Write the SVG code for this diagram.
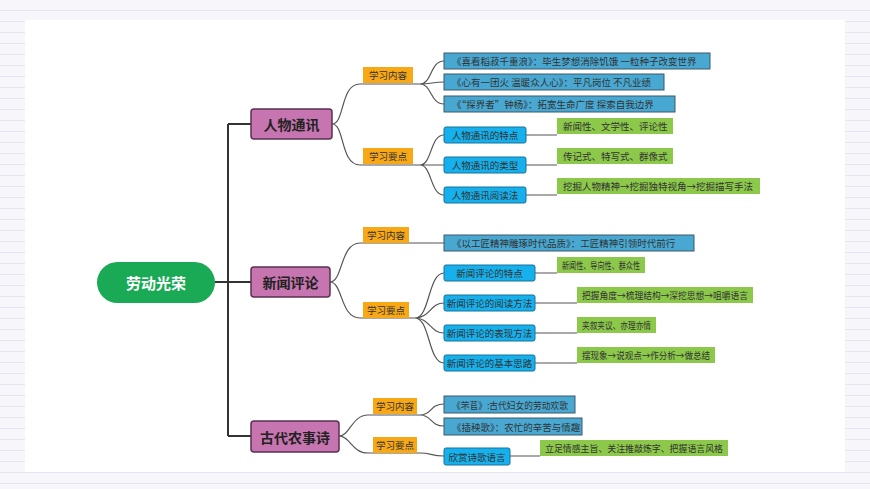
<svg xmlns="http://www.w3.org/2000/svg" width="870" height="489" viewBox="0 0 870 489">
<defs><pattern id="ln" width="10" height="11" patternUnits="userSpaceOnUse"><rect width="10" height="11" fill="#f6f6fb"/><line x1="0" y1="10.5" x2="10" y2="10.5" stroke="#e6e6f0"/></pattern></defs>
<style>
text{font-family:"Noto Sans CJK SC","Noto Sans",sans-serif;dominant-baseline:central}
.c{fill:none;stroke:#555;stroke-width:1.2}
.m rect{fill:#c775b0;stroke:#5a3150;stroke-width:1.5}
.m text{font-size:14px;font-weight:bold;fill:#222;text-anchor:middle}
.o rect{fill:#f8a815}
.o text{font-size:9.5px;fill:#333;text-anchor:middle}
.t rect{fill:#48a8d2;stroke:#3d5a6b;stroke-width:1}
.b rect{fill:#16b0ec;stroke:#16739a;stroke-width:1}
.g rect{fill:#8cc84a}
.t text,.b text,.g text{font-size:9.5px;fill:#333}
.b text{text-anchor:middle}
</style>
<rect width="870" height="489" fill="url(#ln)"/>
<rect x="25" y="20" width="820" height="452" fill="#fff"/>
<g id="connectors">
<path d="M215 282H228M228 124V436M228 124H251M228 282H251M228 436H251" fill="none" stroke="#333" stroke-width="2"/>
<path class="c" d="M332 124C345 124 340 84 360 84H420M332 124C345 124 340 165 360 165H420"/>
<path class="c" d="M420 84C432 84 430 61 444 61M420 84C432 84 432 82 444 82M420 84C432 84 430 104 444 104"/>
<path class="c" d="M420 165C432 165 430 135 444 135M420 165C432 165 432 165 444 165M420 165C432 165 430 195 444 195"/>
<path class="c" d="M526 135H557M526 165H557M526 195H557"/>
<path class="c" d="M330 282C343 282 340 243 360 243H415L444 243M330 282C343 282 340 318 360 318H415"/>
<path class="c" d="M415 318C430 318 428 273 444 273M415 318C430 318 430 303 444 303M415 318C430 318 430 333 444 333M415 318C430 318 428 363 444 363"/>
<path class="c" d="M535 273H557M535 303H577M535 333H577M535 363H577"/>
<path class="c" d="M339 436C350 436 352 415 368 415H420M339 436C350 436 352 453 368 453H420"/>
<path class="c" d="M420 415C432 415 430 404 444 404M420 415C432 415 430 426 444 426M420 453C432 453 430 456 444 456M510 456H540"/>
</g>
<g id="root"><rect x="97" y="262" width="118" height="41" rx="20.5" fill="#1aaa55"/><text x="156" y="282.5" font-size="15" font-weight="bold" fill="#fff" text-anchor="middle">劳动光荣</text></g>
<g id="m1" class="m"><rect x="251" y="109" width="81" height="30" rx="3"/><text x="291.5" y="124">人物通讯</text></g>
<g id="m2" class="m"><rect x="251" y="267" width="79" height="30" rx="3"/><text x="290.5" y="282">新闻评论</text></g>
<g id="m3" class="m"><rect x="251" y="421" width="88" height="31" rx="3"/><text x="295" y="436.5">古代农事诗</text></g>
<g id="o1" class="o"><rect x="363" y="67" width="50" height="16"/><text x="388" y="75">学习内容</text></g>
<g id="o2" class="o"><rect x="363" y="148" width="50" height="16"/><text x="388" y="156">学习要点</text></g>
<g id="o3" class="o"><rect x="363" y="227" width="46" height="16"/><text x="386" y="235">学习内容</text></g>
<g id="o4" class="o"><rect x="363" y="302" width="46" height="16"/><text x="386" y="310">学习要点</text></g>
<g id="o5" class="o"><rect x="373" y="398" width="44" height="16"/><text x="395" y="406">学习内容</text></g>
<g id="o6" class="o"><rect x="373" y="437" width="44" height="16"/><text x="395" y="445">学习要点</text></g>
<g id="t1" class="t"><rect x="444" y="53" width="266" height="16"/><text x="452" y="61">《喜看稻菽千重浪》：毕生梦想消除饥饿 一粒种子改变世界</text></g>
<g id="t2" class="t"><rect x="444" y="74" width="220" height="16"/><text x="452" y="82">《心有一团火 温暖众人心》：平凡岗位 不凡业绩</text></g>
<g id="t3" class="t"><rect x="444" y="96" width="231" height="16"/><text x="452" y="104">《“探界者”钟杨》：拓宽生命广度 探索自我边界</text></g>
<g id="b1" class="b"><rect x="444" y="127" width="82" height="16" rx="2"/><text x="485" y="135">人物通讯的特点</text></g>
<g id="b2" class="b"><rect x="444" y="157" width="82" height="16" rx="2"/><text x="485" y="165">人物通讯的类型</text></g>
<g id="b3" class="b"><rect x="444" y="187" width="82" height="16" rx="2"/><text x="485" y="195">人物通讯阅读法</text></g>
<g id="g1" class="g"><rect x="557" y="118" width="116" height="16"/><text x="563" y="126">新闻性、文学性、评论性</text></g>
<g id="g2" class="g"><rect x="557" y="148" width="116" height="16"/><text x="563" y="156">传记式、特写式、群像式</text></g>
<g id="g3" class="g"><rect x="557" y="178" width="203" height="16"/><text x="563" y="186">挖掘人物精神→挖掘独特视角→挖掘描写手法</text></g>
<g id="t4" class="t"><rect x="444" y="235" width="250" height="16"/><text x="452" y="243">《以工匠精神雕琢时代品质》：工匠精神引领时代前行</text></g>
<g id="b4" class="b"><rect x="444" y="265" width="91" height="16" rx="2"/><text x="489.5" y="273">新闻评论的特点</text></g>
<g id="b5" class="b"><rect x="444" y="295" width="91" height="16" rx="2"/><text x="489.5" y="303">新闻评论的阅读方法</text></g>
<g id="b6" class="b"><rect x="444" y="325" width="91" height="16" rx="2"/><text x="489.5" y="333">新闻评论的表现方法</text></g>
<g id="b7" class="b"><rect x="444" y="355" width="91" height="16" rx="2"/><text x="489.5" y="363">新闻评论的基本思路</text></g>
<g id="g4" class="g"><rect x="557" y="257" width="88" height="16"/><text x="562" y="265" textLength="78" lengthAdjust="spacingAndGlyphs">新闻性、导向性、群众性</text></g>
<g id="g5" class="g"><rect x="577" y="287" width="176" height="16"/><text x="582" y="295" textLength="166" lengthAdjust="spacingAndGlyphs">把握角度→梳理结构→深挖思想→咀嚼语言</text></g>
<g id="g6" class="g"><rect x="577" y="317" width="79" height="16"/><text x="582" y="325" textLength="69" lengthAdjust="spacingAndGlyphs">夹叙夹议、亦理亦情</text></g>
<g id="g7" class="g"><rect x="577" y="347" width="138" height="16"/><text x="582" y="355" textLength="128" lengthAdjust="spacingAndGlyphs">摆现象→说观点→作分析→做总结</text></g>
<g id="t5" class="t"><rect x="444" y="396" width="131" height="17"/><text x="452" y="404.5" textLength="116" lengthAdjust="spacingAndGlyphs">《芣苢》:古代妇女的劳动欢歌</text></g>
<g id="t6" class="t"><rect x="444" y="418" width="138" height="17"/><text x="452" y="426.5">《插秧歌》：农忙的辛苦与情趣</text></g>
<g id="b8" class="b"><rect x="444" y="448" width="66" height="17" rx="2"/><text x="477" y="456.5">欣赏诗歌语言</text></g>
<g id="g8" class="g"><rect x="540" y="440" width="188" height="16"/><text x="545" y="448" textLength="178" lengthAdjust="spacingAndGlyphs">立足情感主旨、关注推敲炼字、把握语言风格</text></g>
</svg>
